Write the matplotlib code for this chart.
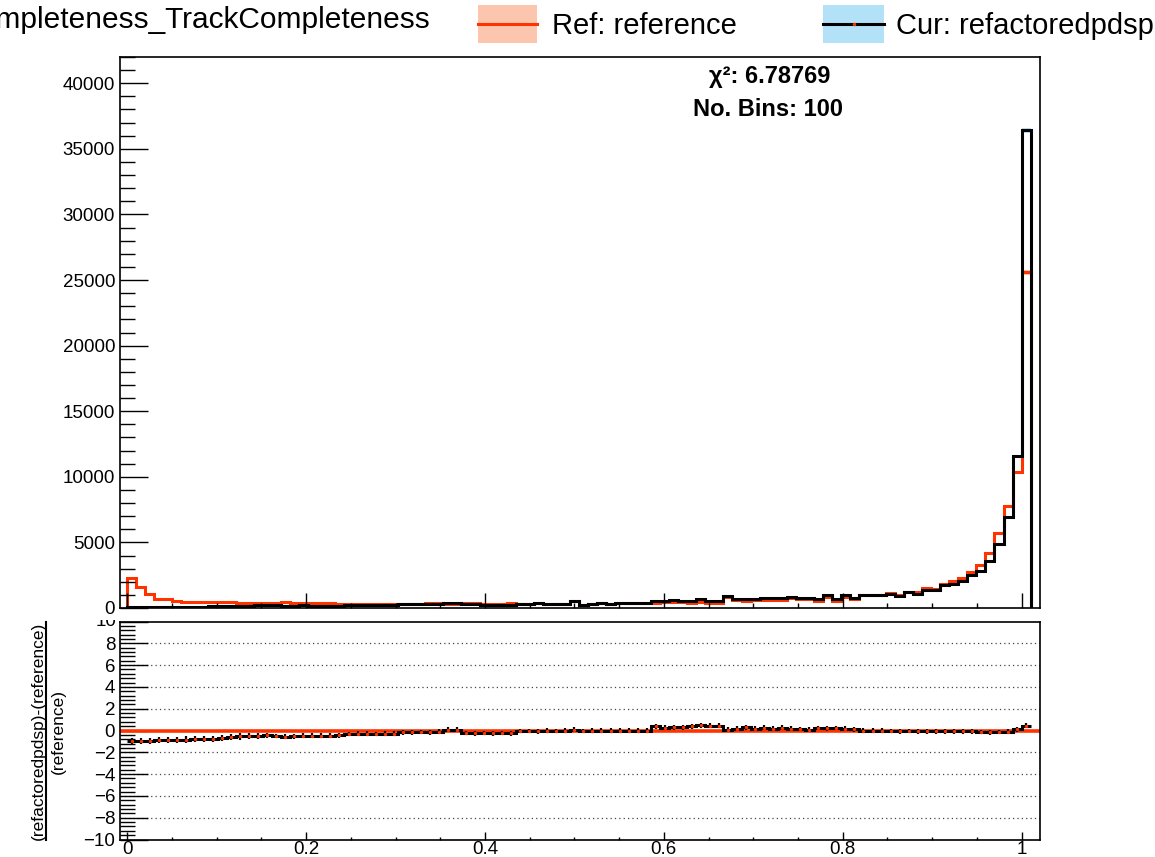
import numpy as np
import matplotlib.pyplot as plt
from matplotlib.patches import Rectangle
from matplotlib.lines import Line2D
from matplotlib.ticker import MultipleLocator, FuncFormatter
from matplotlib.transforms import Bbox, TransformedBbox

plt.rcParams['font.family'] = ['Liberation Sans', 'DejaVu Sans']

# binning of the completeness histograms
n_bins = 100
edges = np.linspace(0.0, 1.01, n_bins + 1)

ref_counts = [
    2260, 1620, 1040, 660, 660, 560, 460, 460, 460, 460,
    460, 460, 400, 400, 410, 380, 400, 420, 400, 390,
    360, 350, 350, 340, 340, 330, 340, 330, 330, 340,
    330, 340, 330, 400, 350, 340, 330, 400, 360, 340,
    330, 330, 350, 330, 330, 400, 340, 330, 330, 500,
    210, 290, 360, 290, 380, 380, 380, 380, 380, 420,
    470, 430, 400, 470, 370, 370, 860, 590, 530, 590,
    590, 635, 635, 740, 690, 690, 560, 810, 560, 840,
    690, 990, 1000, 990, 1140, 1010, 1240, 1190, 1500, 1450,
    1850, 2030, 2290, 2740, 3300, 4190, 5720, 7750, 10340, 25580,
]
cur_counts = [
    110, 100, 75, 70, 80, 85, 80, 90, 105, 120,
    145, 175, 180, 190, 215, 215, 200, 175, 190, 200,
    185, 180, 185, 185, 230, 230, 240, 225, 235, 235,
    275, 290, 285, 335, 310, 360, 355, 310, 270, 260,
    245, 255, 265, 315, 315, 375, 330, 315, 325, 530,
    200, 280, 350, 280, 380, 370, 380, 375, 530, 530,
    610, 560, 560, 690, 530, 530, 915, 690, 690, 690,
    740, 740, 790, 860, 790, 740, 690, 965, 690, 965,
    760, 990, 990, 990, 1090, 940, 1190, 1090, 1400, 1350,
    1730, 1850, 2080, 2490, 2840, 3560, 4900, 6930, 11560, 36420,
]
# half heights of the error bars in the ratio pad
ratio_err = [0.28] * 15 + [0.22] * 85

chi2 = 6.78769
ref_name = "reference"
cur_name = "refactoredpdsp"
title = "TrackCompleteness_TrackCompleteness"

red = '#ff3300'
salmon = '#fcc6ae'
light_blue = '#b2e1f8'

W, H = 1155, 857
fig = plt.figure(figsize=(W / 100, H / 100), dpi=100)


def fx(px):
    return px / W


def fy(py):
    return 1 - py / H


ax = fig.add_axes([fx(120), fy(608), fx(1040) - fx(120), fy(57) - fy(608)])
rax = fig.add_axes([fx(120), fy(839.5), fx(1040) - fx(120), fy(621.5) - fy(839.5)])

ref = np.array(ref_counts, dtype=float)
cur = np.array(cur_counts, dtype=float)

# --- main pad: both histograms with their statistical bands
ax.stairs(ref + np.sqrt(ref), edges, baseline=ref - np.sqrt(ref), fill=True,
          color=salmon, lw=0)
ax.stairs(cur + np.sqrt(cur), edges, baseline=cur - np.sqrt(cur), fill=True,
          color=light_blue, lw=0)
ax.stairs(ref, edges, baseline=0, color=red, lw=2.2)
ax.stairs(cur, edges, baseline=0, color='black', lw=2.2)

ax.set_xlim(-0.008, 1.0205)
ax.set_ylim(0, 42000)
ax.xaxis.set_major_locator(MultipleLocator(0.2))
ax.xaxis.set_minor_locator(MultipleLocator(0.05))
ax.yaxis.set_major_locator(MultipleLocator(5000))
ax.yaxis.set_minor_locator(MultipleLocator(1000))
ax.tick_params(which='both', direction='in', top=False, right=False,
               labelbottom=False, labelsize=13.5)
ax.tick_params(axis='x', which='major', length=10.5, width=1)
ax.tick_params(axis='x', which='minor', length=3.8, width=1)
ax.tick_params(axis='y', which='major', length=20, width=1)
ax.tick_params(axis='y', which='minor', length=10.5, width=1)
for s in ax.spines.values():
    s.set_linewidth(1.2)

fig.text(fx(830), fy(77), f"\u03c7\u00b2: {chi2:.5f}", ha='right', va='center',
         fontsize=17, fontweight='bold')
fig.text(fx(843), fy(110), f"No. Bins: {n_bins}", ha='right', va='center',
         fontsize=17, fontweight='bold')

# --- ratio pad: (cur - ref) / ref
ratio = (cur - ref) / ref
centers = 0.5 * (edges[1:] + edges[:-1])

for yv in [-8, -6, -4, -2, 2, 4, 6, 8]:
    rax.axhline(yv, color='#444444', ls=(0, (1, 2.5)), lw=0.9, zorder=1)
rax.axhline(0, color=red, lw=2.6, zorder=2)
rax.stairs(ratio, edges, baseline=None, color='black', lw=2.2, zorder=3)
rax.errorbar(centers, ratio, yerr=ratio_err, fmt='none', ecolor='black',
             elinewidth=1.6, zorder=3)
rax.plot(centers, ratio, 'o', ms=1.4, color=red, zorder=4)

rax.set_xlim(-0.008, 1.0205)
rax.set_ylim(-10, 10)
rax.xaxis.set_major_locator(MultipleLocator(0.2))
rax.xaxis.set_minor_locator(MultipleLocator(0.05))
rax.yaxis.set_major_locator(MultipleLocator(2))
rax.yaxis.set_minor_locator(MultipleLocator(0.4))
rax.xaxis.set_major_formatter(FuncFormatter(lambda v, p: f"{v:g}"))
# the "10" label is drawn separately so the pad edge can cut it
rax.yaxis.set_major_formatter(
    FuncFormatter(lambda v, p: '' if v > 9.5 else f"{v:g}".replace('-', '\u2212')))
rax.tick_params(which='both', direction='in', top=False, right=False, labelsize=13.5)
rax.tick_params(axis='x', which='major', length=6, width=1, pad=1)
rax.tick_params(axis='x', which='minor', length=2.5, width=1)
rax.tick_params(axis='y', which='major', length=20, width=1)
rax.tick_params(axis='y', which='minor', length=10.5, width=1)
for s in rax.spines.values():
    s.set_linewidth(1.2)

top_label = rax.text(-0.004, 10, '10', transform=rax.get_yaxis_transform(),
                     ha='right', va='center', fontsize=13.5)
top_label.set_clip_box(TransformedBbox(Bbox.from_extents(0, 0, 1, fy(619.5)),
                                       fig.transFigure))
top_label.set_clip_on(True)

# fraction-style y title of the ratio pad
fig.text(fx(38), fy(731), f"({cur_name})-({ref_name})", rotation=90,
         ha='center', va='center', fontsize=12.5)
fig.text(fx(58), fy(731), f"({ref_name})", rotation=90,
         ha='center', va='center', fontsize=12.5)
fig.add_artist(Line2D([fx(46), fx(46)], [fy(622), fy(840)],
                      transform=fig.transFigure, color='black', lw=1.5))

# --- header: title and legend
fig.text(fx(430), fy(20), title, ha='right', va='center', fontsize=21.5)

fig.add_artist(Rectangle((fx(478), fy(43)), fx(537) - fx(478), fy(5) - fy(43),
                         transform=fig.transFigure, color=salmon, lw=0))
fig.add_artist(Line2D([fx(478), fx(537)], [fy(24), fy(24)],
                      transform=fig.transFigure, color=red, lw=2.2))
fig.text(fx(552), fy(26), f"Ref: {ref_name}", ha='left', va='center', fontsize=21)

fig.add_artist(Rectangle((fx(823), fy(43)), fx(884) - fx(823), fy(5) - fy(43),
                         transform=fig.transFigure, color=light_blue, lw=0))
fig.add_artist(Line2D([fx(823), fx(884)], [fy(24), fy(24)],
                      transform=fig.transFigure, color='black', lw=2.2))
fig.add_artist(Line2D([fx(853.5)], [fy(24)], transform=fig.transFigure,
                      marker='o', ms=1.5, color=red, lw=0))
fig.text(fx(896), fy(26), f"Cur: {cur_name}", ha='left', va='center', fontsize=21)

fig.savefig('out.png', dpi=100)
